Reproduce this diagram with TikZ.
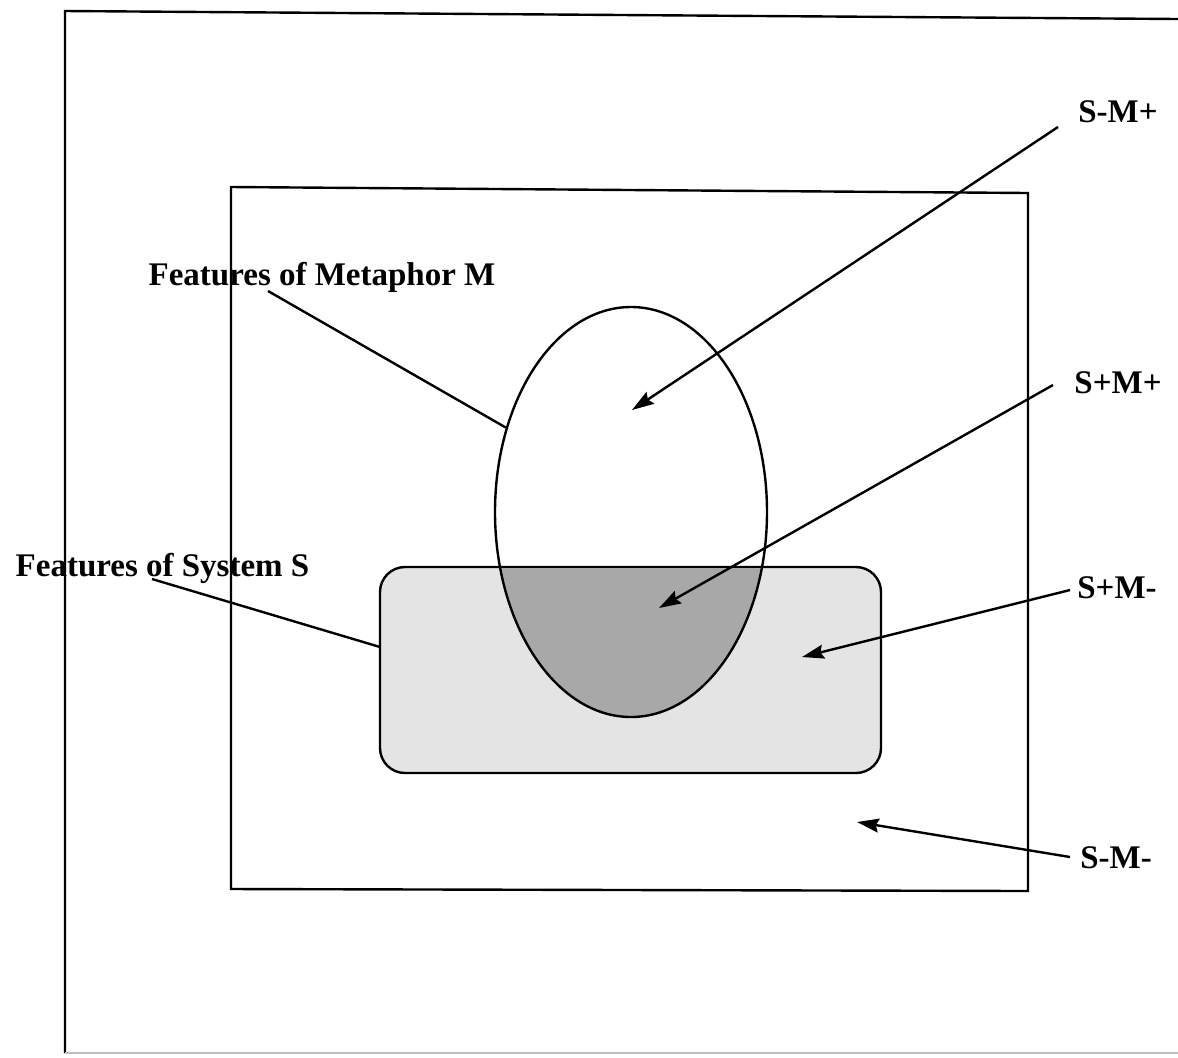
\documentclass[tikz,border=0pt]{standalone}
\usepackage{fontspec}
\setmainfont{Liberation Serif}
\usetikzlibrary{arrows.meta,shapes.geometric}
\definecolor{lightfill}{HTML}{E4E4E4}
\definecolor{darkfill}{HTML}{A8A8A8}
\begin{document}
\begin{tikzpicture}[x=0.5pt,y=-0.5pt,
  frame/.style={line width=1.2pt,black},
  conn/.style={line width=1.2pt,black},
  arr/.style={conn,-{Stealth[length=11pt,width=7pt,inset=1.5pt]}},
  lbl/.style={font=\bfseries\fontsize{16.5pt}{18pt}\selectfont,inner sep=0pt,anchor=base}]
\useasboundingbox (0,0) rectangle (1178,1057);
% outer frame (partly cut off)
\draw[frame] (1178,19) -- (65,11) -- (65,1053);
\draw[gray!50,line width=1pt] (65,1053) -- (1178,1053);
% inner rectangle
\draw[frame] (231,187) -- (1028,193) -- (1028,891) -- (231,889) -- cycle;
% system S rounded rectangle
\node[draw,line width=1.2pt,fill=lightfill,rounded corners=12.5pt,
      minimum width=250.5pt,minimum height=103pt,inner sep=0pt] (rr) at (630.5,670) {};
% overlap region
\begin{scope}
  \clip (381,568.3) rectangle (880,772);
  \fill[darkfill] (631,512) ellipse [x radius=68pt,y radius=102.5pt];
\end{scope}
% metaphor M ellipse
\node[ellipse,draw,line width=1.2pt,minimum width=136pt,minimum height=205pt,inner sep=0pt] (ell) at (631,512) {};
% labels
\node[lbl] (lmeta) at (322,285) {Features of Metaphor M};
\node[lbl] (lsys) at (162.5,576) {Features of System S};
\node[lbl] (lsmp) at (1118,122) {S-M+};
\node[lbl] (lspp) at (1118,393) {S+M+};
\node[lbl] (lspm) at (1117,598) {S+M-};
\node[lbl] (lsmm) at (1116,868) {S-M-};
% connector end points
\coordinate (metaS) at (268,291);
\coordinate (sysS) at (152,579);
\coordinate (sysE) at (380,647);
\coordinate (smpS) at (1058,127);
\coordinate (smpT) at (632,410);
\coordinate (sppS) at (1053,385);
\coordinate (sppT) at (659,608);
\coordinate (spmS) at (1070,590);
\coordinate (spmT) at (802,657);
\coordinate (smmS) at (1070,857);
\coordinate (smmT) at (857,822);
% connectors
\draw[conn] (metaS) -- (ell.146.4);
\draw[conn] (sysS) -- (sysE);
\draw[arr] (smpS) -- (smpT);
\draw[arr] (sppS) -- (sppT);
\draw[arr] (spmS) -- (spmT);
\draw[arr] (smmS) -- (smmT);
\end{tikzpicture}
\end{document}
